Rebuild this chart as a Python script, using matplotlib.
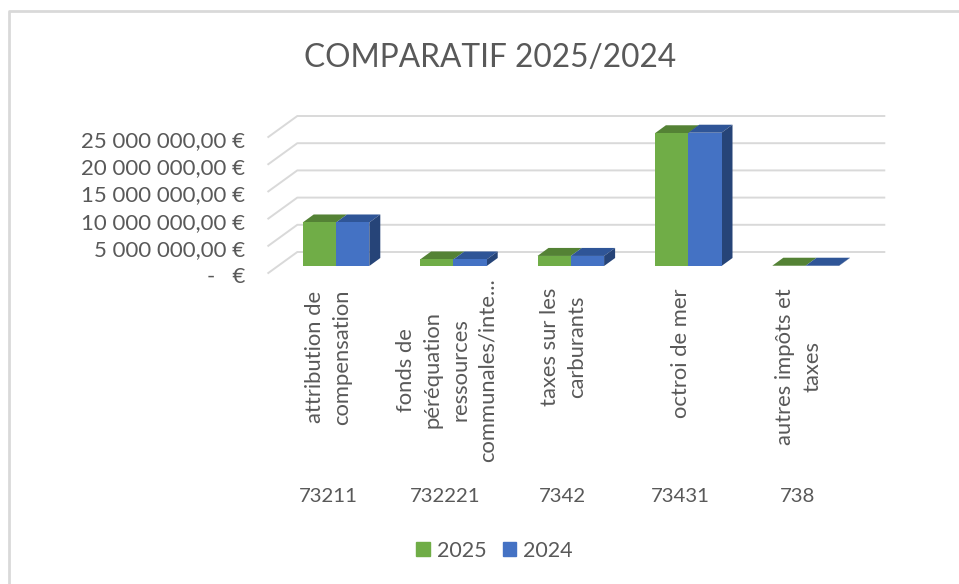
import matplotlib
matplotlib.use("Agg")
import matplotlib.pyplot as plt
import matplotlib.transforms as mtrans
from matplotlib.patches import Patch, Polygon

codes = ["73211", "732221", "7342", "73431", "738"]
labels = [
    "attribution de\ncompensation",
    "fonds de\npéréquation\nressources\ncommunales/inte...",
    "taxes sur les\ncarburants",
    "octroi de mer",
    "autres impôts et\ntaxes",
]
values_2025 = [8000000, 1200000, 1850000, 24400000, 50000]
values_2024 = [8000000, 1200000, 1850000, 24500000, 50000]
y_ticks = [0, 5000000, 10000000, 15000000, 20000000, 25000000]
y_tick_labels = ["-   €", "5 000 000,00 €", "10 000 000,00 €", "15 000 000,00 €",
                 "20 000 000,00 €", "25 000 000,00 €"]

W, H = 959, 584
TEXT = "#595959"
GRID = "#d9d9d9"
plt.rcParams["font.family"] = ["Lato", "DejaVu Sans"]

fig = plt.figure(figsize=(W / 100, H / 100), dpi=100, facecolor="white")
# pixel coords, origin top left
px = mtrans.Affine2D().scale(1 / W, -1 / H).translate(0, 1) + fig.transFigure

# front plane of the bars: x 277-864, y 266 (zero) to 130 (25M)
ax = fig.add_axes([277.3 / W, 1 - 266 / H, 587 / W, 136 / H])
ax.set_xlim(-0.5, 4.5)
ax.set_ylim(0, 25000000)
ax.patch.set_visible(False)
for s in ax.spines.values():
    s.set_visible(False)

# pixel sizes converted to data units
ux = 1 / 117.4
uy = 25000000 / 136

# gridlines, floor corner to back wall then along the wall
for t in y_ticks:
    xs = [-0.5 - 9 * ux, -0.5 + 20 * ux, 4.5 + 20 * ux]
    ys = [t - 7 * uy, t + 14 * uy, t + 14 * uy]
    ax.plot(xs, ys, color=GRID, lw=1.4, clip_on=False, zorder=1)

bar_w = 33.3 * ux
dx, dy = 11 * ux, 8 * uy
for i in range(len(codes)):
    x0 = i - bar_w
    v1, v2 = values_2025[i], values_2024[i]
    ax.add_patch(Polygon([(x0, v1), (x0 + bar_w, v1), (x0 + bar_w + dx, v1 + dy), (x0 + dx, v1 + dy)],
                         fc="#548235", ec="none", clip_on=False, zorder=2))
    ax.add_patch(Polygon([(i, v2), (i + bar_w, v2), (i + bar_w + dx, v2 + dy), (i + dx, v2 + dy)],
                         fc="#2f5597", ec="none", clip_on=False, zorder=2))
    ax.add_patch(Polygon([(i + bar_w, 0), (i + bar_w + dx, dy), (i + bar_w + dx, v2 + dy), (i + bar_w, v2)],
                         fc="#264478", ec="none", clip_on=False, zorder=2))

ax.bar([i - bar_w / 2 for i in range(5)], values_2025, bar_w, color="#70ad47", zorder=3)
ax.bar([i + bar_w / 2 for i in range(5)], values_2024, bar_w, color="#4472c4", zorder=3)

# axis labels sit below the bar plane, on the front edge of the floor
ax.set_yticks(y_ticks)
ax.set_yticklabels(y_tick_labels, fontsize=16, color=TEXT)
ax.tick_params(axis="y", length=0, pad=23)
for lab in ax.get_yticklabels():
    lab.set_transform(lab.get_transform() + mtrans.ScaledTranslation(0, -9 / 100, fig.dpi_scale_trans))

ax.set_xticks(range(5))
ax.set_xticklabels(codes, fontsize=14.7, color=TEXT)
ax.tick_params(axis="x", length=0, pad=159.5)
for lab in ax.get_xticklabels():
    lab.set_transform(lab.get_transform() + mtrans.ScaledTranslation(-8 / 100, 0, fig.dpi_scale_trans))

# wrapped category names, rotated
label_mid_y = [357, 370, 347, 353, 367]
label_tf = mtrans.blended_transform_factory(ax.transData, px) + \
    mtrans.ScaledTranslation(-7 / 100, 0, fig.dpi_scale_trans)
for i, name in enumerate(labels):
    ax.text(i, label_mid_y[i], name, transform=label_tf, rotation=90, ha="center", va="center",
            multialignment="center", fontsize=15.8, color=TEXT, linespacing=1.45, clip_on=False)

fig.text(490, 58, "COMPARATIF 2025/2024", transform=px, ha="center", va="center", fontsize=22.8, color=TEXT)

fig.legend(handles=[Patch(color="#70ad47", label="2025"), Patch(color="#4472c4", label="2024")],
           loc="center", bbox_to_anchor=(494.5 / W, 1 - 551 / H), ncol=2, frameon=False, fontsize=15.5,
           labelcolor=TEXT, handlelength=0.62, handleheight=0.62, handletextpad=0.33, columnspacing=0.75)

# frame of the screenshot, only left and top are visible
fig.add_artist(plt.Line2D([9, 9, W], [H, 11, 11], transform=px, color="#d9d9d9", lw=2))

fig.savefig("out.png", dpi=100)
